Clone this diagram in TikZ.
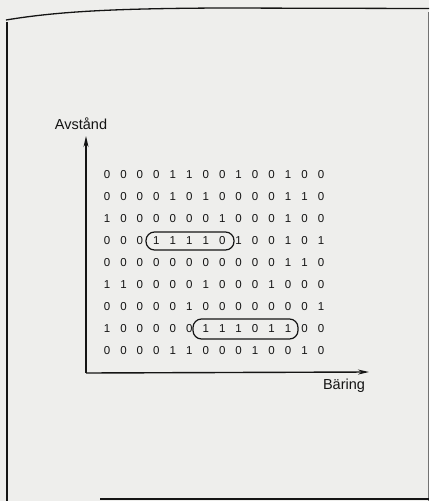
\documentclass[tikz,border=0pt]{standalone}
\usepackage{fontspec}
\newfontfamily\labelfont{Liberation Sans}
\usetikzlibrary{arrows.meta}
\definecolor{paper}{RGB}{238,238,236}
\definecolor{ink}{RGB}{20,20,20}
\tikzset{
  digit/.style={inner sep=0pt, text=ink, font=\labelfont\fontsize{11.5}{12}\selectfont},
  axislabel/.style={inner sep=0pt, text=ink, font=\labelfont\fontsize{14.5}{15}\selectfont},
  oval/.style={draw=ink, line width=1.2pt, rounded corners=8.5pt, inner sep=0pt},
  axis/.style={draw=ink, line width=1.4pt, -{Stealth[length=11pt,width=5pt]}},
  frame/.style={draw=ink, line width=1.3pt}
}
\begin{document}
\begin{tikzpicture}[x=1pt,y=-1pt]
\fill[paper] (0,0) rectangle (429,501);
\useasboundingbox (0,0) rectangle (429,501);
% frame
\draw[frame] (6,20) .. controls (60,11) and (120,8.5) .. (220,8) -- (429,8.5);
\draw[frame] (7,22) -- (7,501);
\draw[frame, draw=ink!60, line width=0.8pt] (428,12) -- (428,501);
\draw[frame] (100,499) -- (429,499);
% axes
\coordinate (origin) at (86,373);
\coordinate (ytip) at (86,136);
\coordinate (xtip) at (369,372);
\draw[axis] (origin) -- (ytip);
\draw[axis] (origin) -- (xtip);
\node[axislabel] (ylab) at (81,124) {Avstånd};
\node[axislabel] (xlab) at (344,386) {Bäring};
% grid
\foreach \row [count=\r] in {
  {0,0,0,0,1,1,0,0,1,0,0,1,0,0},
  {0,0,0,0,1,0,1,0,0,0,0,1,1,0},
  {1,0,0,0,0,0,0,1,0,0,0,1,0,0},
  {0,0,0,1,1,1,1,0,1,0,0,1,0,1},
  {0,0,0,0,0,0,0,0,0,0,0,1,1,0},
  {1,1,0,0,0,0,1,0,0,0,1,0,0,0},
  {0,0,0,0,0,1,0,0,0,0,0,0,0,1},
  {1,0,0,0,0,0,1,1,1,0,1,1,0,0},
  {0,0,0,0,1,1,0,0,0,1,0,0,1,0}} {
  \foreach \v [count=\c] in \row {
    \node[digit] (d\r-\c) at ({107+(\c-1)*16.46},{175+(\r-1)*22}) {\v};
  }
}
% ovals
\node[oval, minimum width=88pt, minimum height=18pt] (oval1) at (190,241) {};
\node[oval, minimum width=105pt, minimum height=20pt] (oval2) at (245.5,329) {};
\end{tikzpicture}
\end{document}
